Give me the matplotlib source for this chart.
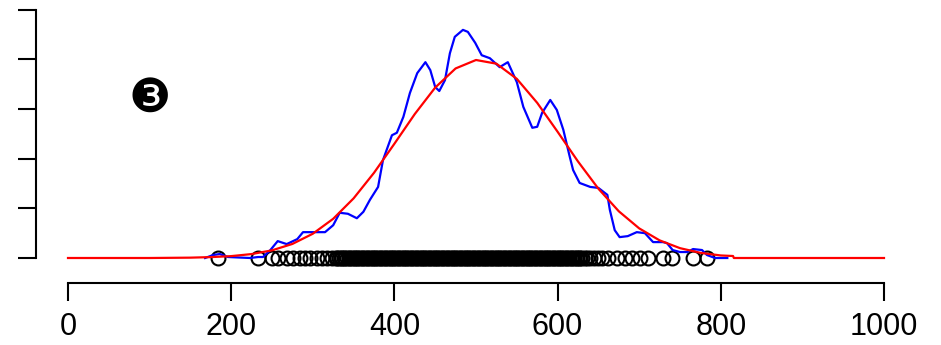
import numpy as np
import matplotlib.pyplot as plt

# kernel density (blue); y in units of 0.001
dens_x = [168, 178, 186, 196, 223, 233, 239, 248, 257, 268, 281, 288, 315, 325, 333, 343,
          354, 362, 370, 380, 386, 397, 403, 411, 419, 428, 438, 444, 450, 455, 462, 468,
          474, 484, 490, 499, 507, 517, 529, 539, 550, 558, 569, 575, 581, 591, 599, 607,
          615, 619, 627, 640, 650, 661, 664, 670, 676, 686, 697, 707, 717, 729, 734, 741,
          750, 759, 766, 777, 783, 793, 808]
dens_y = [0, 0.06, 0.08, 0.02, 0, 0.02, 0.02, 0.16, 0.34, 0.28, 0.38, 0.52, 0.52, 0.66, 0.91, 0.89,
          0.80, 0.93, 1.17, 1.43, 1.97, 2.47, 2.52, 2.84, 3.32, 3.72, 3.94, 3.78, 3.44, 3.36, 3.58, 4.12,
          4.45, 4.59, 4.55, 4.33, 4.08, 4.02, 3.84, 3.94, 3.54, 3.04, 2.62, 2.64, 2.92, 3.18, 2.98, 2.58,
          2.03, 1.77, 1.51, 1.43, 1.41, 1.27, 0.97, 0.56, 0.42, 0.44, 0.52, 0.50, 0.32, 0.32, 0.30, 0.16,
          0.12, 0.12, 0.18, 0.16, 0.06, 0, 0]

# fitted normal curve (red)
norm_x = [0, 100, 150, 175, 200, 225, 250, 275, 300, 325, 350, 375, 400, 425, 450, 475, 500,
          525, 550, 575, 600, 625, 650, 675, 700, 725, 750, 775, 800, 815, 816, 900, 1000]
norm_y = [0, 0, 0.007, 0.018, 0.038, 0.079, 0.154, 0.283, 0.488, 0.789, 1.200, 1.714, 2.299, 2.897,
          3.429, 3.814, 3.984, 3.910, 3.605, 3.122, 2.540, 1.942, 1.394, 0.940, 0.596, 0.355, 0.198,
          0.104, 0.051, 0.04, 0, 0, 0]

# observations (rug of open circles); the middle is packed so tightly it reads as a solid band
obs = [184, 233, 250, 257, 268, 276, 284, 290, 296, 305, 311, 317, 324, 328,
       330, 332, 334, 336, 338, 340, 342, 344, 346, 348, 350, 352, 354, 356, 358, 360,
       362, 364, 366, 368, 370, 372, 374, 376, 378, 380, 382, 384, 386, 388, 390, 392,
       394, 396, 398, 400, 402, 404, 406, 408, 410, 412, 414, 416, 418, 420, 422, 424,
       426, 428, 430, 432, 434, 436, 438, 440, 442, 444, 446, 448, 450, 452, 454, 456,
       458, 460, 462, 464, 466, 468, 470, 472, 474, 476, 478, 480, 482, 484, 486, 488,
       490, 492, 494, 496, 498, 500, 502, 504, 506, 508, 510, 512, 514, 516, 518, 520,
       522, 524, 526, 528, 530, 532, 534, 536, 538, 540, 542, 544, 546, 548, 550, 552,
       554, 556, 558, 560, 562, 564, 566, 568, 570, 572, 574, 576, 578, 580, 582, 584,
       586, 588, 590, 592, 594, 596, 598, 600, 602, 604, 606, 608, 610, 612, 614, 616,
       618, 620, 622, 624, 626, 628, 630, 633, 636, 640, 645, 650, 655, 662, 673, 683,
       691, 701, 711, 729, 740, 766, 783]

xticks = [0, 200, 400, 600, 800, 1000]
yticks = [0, 1, 2, 3, 4, 5]

plt.rcParams['font.family'] = ['Liberation Sans', 'DejaVu Sans']

fig = plt.figure(figsize=(9.41, 3.45), dpi=100)
W, H = 941, 345
ax = fig.add_axes([36 / W, (H - 283) / H, (916 - 36) / W, (283 - 5) / H])
ax.set_xlim(-32 / 0.816, (916 - 68) / 0.816)
ax.set_ylim(-25 / 49.7, (258 - 5) / 49.7)

ax.plot(obs, [0] * len(obs), 'o', mfc='none', mec='black', ms=10, mew=1.5, zorder=2)
ax.plot(dens_x, dens_y, color='#0000FF', lw=1.6, zorder=3)
ax.plot(norm_x, norm_y, color='#FF0000', lw=1.6, zorder=4)

ax.text(100, 3.2, '\u2778', family=['DejaVu Sans'], fontsize=34, ha='center', va='center')

ax.spines['right'].set_visible(False)
ax.spines['top'].set_visible(False)
ax.spines['left'].set_bounds(0, 5)
ax.spines['bottom'].set_bounds(0, 1000)
for s in ['left', 'bottom']:
    ax.spines[s].set_linewidth(1.5)
ax.set_xticks(xticks)
ax.set_yticks(yticks)
ax.set_yticklabels([])
ax.tick_params(axis='both', length=13, width=1.5, direction='out')
ax.tick_params(axis='x', labelsize=22, pad=8)

plt.savefig('out.png', dpi=100)
